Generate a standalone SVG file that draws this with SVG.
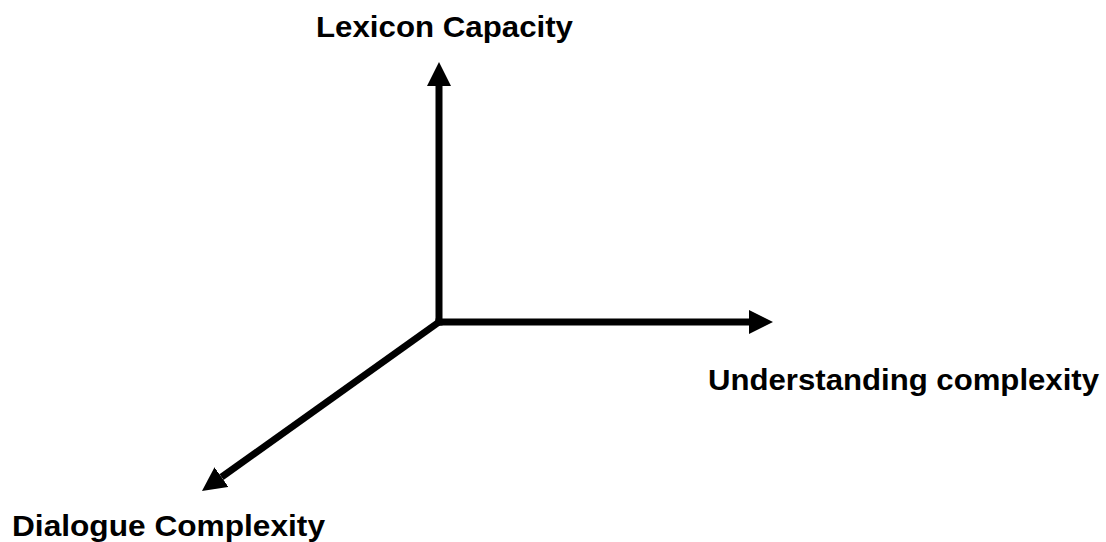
<svg xmlns="http://www.w3.org/2000/svg" width="1106" height="542" viewBox="0 0 1106 542">
  <style>
    .axis { stroke: #000; stroke-width: 7; fill: none; marker-end: url(#arrow); }
    .label { font-family: "Liberation Sans", Arial, sans-serif; font-weight: bold; font-size: 30px; fill: #000; }
  </style>
  <defs>
    <marker id="arrow" viewBox="0 0 24 24" markerWidth="24" markerHeight="24" markerUnits="userSpaceOnUse" refX="0" refY="12" orient="auto">
      <path d="M0,0 L24,12 L0,24 z" fill="#000"/>
    </marker>
  </defs>
  <rect width="1106" height="542" fill="#fff"/>
  <g id="connectors">
    <line class="axis" x1="439" y1="325.5" x2="439" y2="86"/>
    <line class="axis" x1="435.5" y1="322" x2="749" y2="322"/>
    <line class="axis" x1="439" y1="322" x2="221.5" y2="477.1"/>
  </g>
  <g id="lexicon">
    <text class="label" x="316" y="37" textLength="257" lengthAdjust="spacingAndGlyphs">Lexicon Capacity</text>
  </g>
  <g id="understanding">
    <text class="label" x="708" y="390" textLength="391" lengthAdjust="spacingAndGlyphs">Understanding complexity</text>
  </g>
  <g id="dialogue">
    <text class="label" x="12" y="536" textLength="313" lengthAdjust="spacingAndGlyphs">Dialogue Complexity</text>
  </g>
</svg>
